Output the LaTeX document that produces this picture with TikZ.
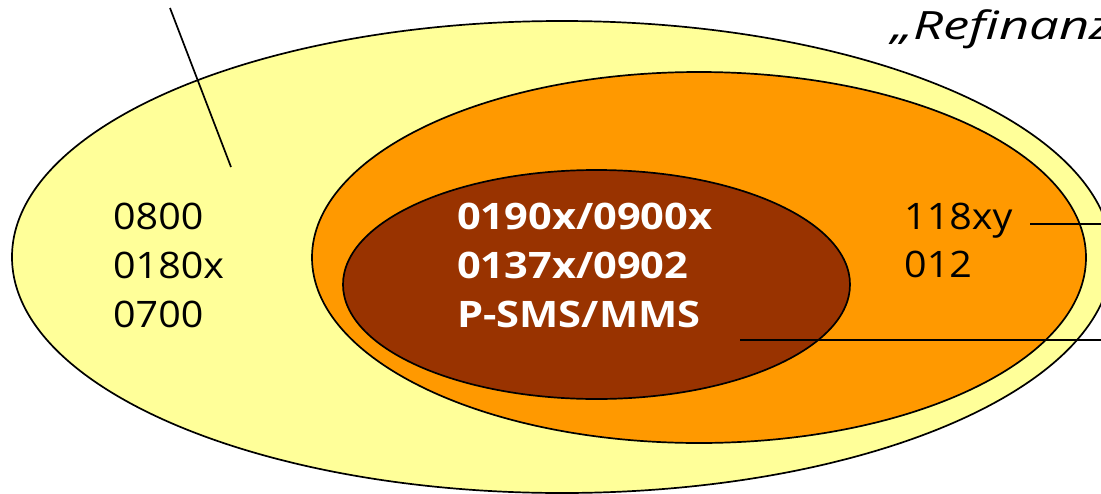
\documentclass[tikz,border=0pt]{standalone}
\usepackage{fontspec}
\setmainfont{Open Sans}
\newfontfamily\numfont[FakeStretch=1.08]{Open Sans}
\newfontfamily\boldnumfont[FakeStretch=1.14]{Open Sans}
\newfontfamily\captionfont[FakeStretch=1.35]{Open Sans}
\usetikzlibrary{shapes.geometric}

\definecolor{paleyellow}{HTML}{FFFF99}
\definecolor{midorange}{HTML}{FF9900}
\definecolor{rustbrown}{HTML}{993300}

\begin{document}
\begin{tikzpicture}[x=1pt,y=-1pt,
  zone/.style={ellipse, draw=black, line width=1.7pt, inner sep=0pt},
  numline/.style={anchor=base west, inner sep=0pt,
    font=\numfont\fontsize{36.5}{44}\selectfont},
  boldline/.style={anchor=base west, inner sep=0pt, text=white,
    font=\boldnumfont\bfseries\fontsize{36.5}{44}\selectfont},
  captionline/.style={anchor=base west, inner sep=0pt,
    font=\captionfont\itshape\fontsize{39}{46}\selectfont},
  leader/.style={draw=black, line width=1.7pt}]
\useasboundingbox (0,0) rectangle (1101,493);

% nested number ranges
\node[zone, fill=paleyellow, minimum width=1100pt, minimum height=472pt] (outer) at (562,257) {};
\node[zone, fill=midorange, minimum width=774pt, minimum height=371pt] (middle) at (699,257.5) {};
\node[zone, fill=rustbrown, minimum width=507pt, minimum height=229pt] (inner) at (596.5,284.5) {};

% outer ring
\node[numline] (o1) at (113,229) {0800};
\node[numline] (o2) at (113,278) {0180x};
\node[numline] (o3) at (113,327) {0700};

% core
\node[boldline] (c1) at (457,229) {0190x/0900x};
\node[boldline] (c2) at (457,278) {0137x/0902};
\node[boldline] (c3) at (457,327) {P-SMS/MMS};

% middle ring
\node[numline] (m1) at (904,229) {118xy};
\node[numline] (m2) at (904,277) {012};

% heading
\node[captionline] (head) at (891,39) {„Refinanz};

% pointer lines
\coordinate (a1) at (170,8);
\coordinate (a2) at (231,167);
\coordinate (b1) at (1030,224);
\coordinate (b2) at (1110,224);
\coordinate (d1) at (740,340);
\coordinate (d2) at (1110,340);
\draw[leader] (a1) -- (a2);
\draw[leader] (b1) -- (b2);
\draw[leader] (d1) -- (d2);
\end{tikzpicture}
\end{document}
